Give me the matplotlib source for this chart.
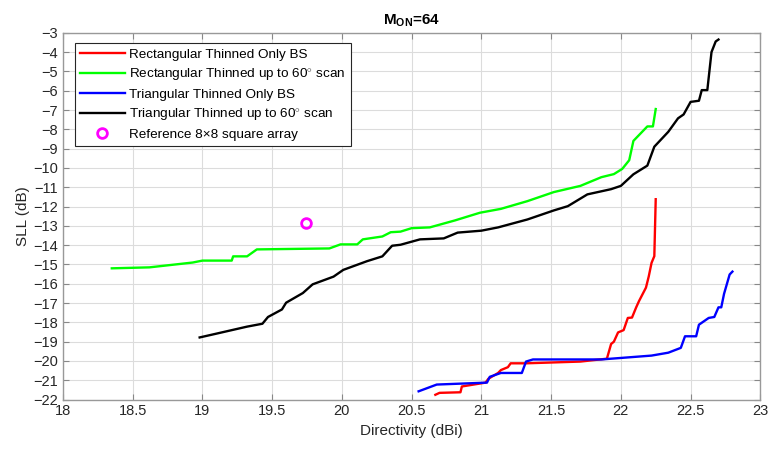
import matplotlib.pyplot as plt
import numpy as np

plt.rcParams["font.family"] = ["Liberation Sans", "DejaVu Sans"]
plt.rcParams["mathtext.fontset"] = "custom"
plt.rcParams["mathtext.rm"] = "Liberation Sans"
plt.rcParams["mathtext.bf"] = "Liberation Sans:bold"

# directivity (dBi) vs peak sidelobe level (dB), M_ON = 64 elements switched on
rect_bs_d = [20.67, 20.70, 20.85, 20.86, 21.03, 21.05, 21.12, 21.14, 21.19, 21.21, 21.32,
             21.71, 21.90, 21.93, 21.95, 21.98, 22.02, 22.05, 22.08, 22.11, 22.13, 22.16,
             22.18, 22.20, 22.22, 22.24, 22.25]
rect_bs_sll = [-21.75, -21.65, -21.62, -21.32, -21.12, -20.92, -20.62, -20.47, -20.32, -20.12, -20.12,
               -20.03, -19.88, -19.12, -19.0, -18.52, -18.4, -17.77, -17.75, -17.22, -16.9, -16.48,
               -16.2, -15.62, -14.92, -14.57, -11.62]

rect_scan_d = [18.35, 18.62, 18.93, 19.00, 19.21, 19.22, 19.32, 19.39, 19.91, 19.99, 20.11,
               20.15, 20.29, 20.35, 20.42, 20.50, 20.63, 20.81, 20.99, 21.14, 21.33, 21.52,
               21.71, 21.86, 21.95, 22.01, 22.06, 22.09, 22.19, 22.23, 22.25]
rect_scan_sll = [-15.20, -15.15, -14.90, -14.80, -14.80, -14.58, -14.58, -14.22, -14.17, -13.96, -13.96,
                 -13.70, -13.55, -13.33, -13.30, -13.12, -13.08, -12.72, -12.32, -12.12, -11.72, -11.25,
                 -10.93, -10.48, -10.32, -10.05, -9.60, -8.60, -7.85, -7.85, -6.95]

tri_bs_d = [20.55, 20.68, 21.04, 21.06, 21.14, 21.29, 21.32, 21.37, 21.86, 22.22, 22.34,
            22.43, 22.46, 22.54, 22.56, 22.63, 22.67, 22.70, 22.72, 22.74, 22.78, 22.80]
tri_bs_sll = [-21.57, -21.22, -21.12, -20.82, -20.62, -20.62, -20.03, -19.92, -19.92, -19.72, -19.57,
              -19.32, -18.72, -18.72, -18.12, -17.77, -17.72, -17.22, -17.22, -16.52, -15.52, -15.37]

tri_scan_d = [18.98, 19.09, 19.32, 19.43, 19.47, 19.57, 19.60, 19.72, 19.79, 19.94, 20.01,
              20.18, 20.29, 20.36, 20.42, 20.56, 20.73, 20.83, 21.00, 21.12, 21.33, 21.52,
              21.62, 21.76, 21.93, 22.00, 22.09, 22.19, 22.24, 22.34, 22.41, 22.45, 22.50,
              22.56, 22.58, 22.62, 22.65, 22.68, 22.70]
tri_scan_sll = [-18.78, -18.60, -18.22, -18.07, -17.72, -17.33, -16.98, -16.48, -16.03, -15.63, -15.28,
                -14.83, -14.58, -14.03, -13.98, -13.70, -13.65, -13.35, -13.25, -13.08, -12.67, -12.20,
                -11.98, -11.37, -11.10, -10.93, -10.33, -9.88, -8.90, -8.13, -7.43, -7.23, -6.58,
                -6.52, -5.97, -5.97, -4.00, -3.45, -3.35]

ref_d = [19.74]
ref_sll = [-12.83]

fig = plt.figure(figsize=(7.68, 4.49), dpi=100)
ax = fig.add_axes([0.082, 0.110, 0.908, 0.817])

lw = 1.7
ax.plot(rect_bs_d, rect_bs_sll, color="#ff0000", lw=lw, label="Rectangular Thinned Only BS")
ax.plot(rect_scan_d, rect_scan_sll, color="#00ff00", lw=lw,
        label=r"Rectangular Thinned up to 60$^{\circ}$ scan")
ax.plot(tri_bs_d, tri_bs_sll, color="#0000ff", lw=lw, label="Triangular Thinned Only BS")
ax.plot(tri_scan_d, tri_scan_sll, color="#000000", lw=lw,
        label=r"Triangular Thinned up to 60$^{\circ}$ scan")
ax.plot(ref_d, ref_sll, "o", color="#ff00ff", mfc="none", ms=7, mew=2,
        label="Reference 8×8 square array")

ax.set_xlim(18, 23)
ax.set_ylim(-22, -3)
ax.set_xticks(np.arange(18, 23.01, 0.5))
ax.set_xticklabels([f"{v:g}" for v in np.arange(18, 23.01, 0.5)])
ax.set_yticks(np.arange(-22, -2.99, 1))
ax.set_yticklabels([f"\u2212{abs(int(v))}" for v in np.arange(-22, -2.99, 1)])

ax.grid(True, color="#dcdcdc", lw=0.8)
ax.set_axisbelow(True)
ax.tick_params(direction="in", top=True, right=True, length=4, labelsize=10.5,
               color="#888888", labelcolor="#262626")
for s in ax.spines.values():
    s.set_color("#999999")
    s.set_linewidth(1.0)

ax.set_xlabel("Directivity (dBi)", fontsize=11, color="#262626")
ax.set_ylabel("SLL (dB)", fontsize=11, color="#262626", labelpad=2)
ax.set_title(r"$\mathbf{M_{ON}}$=64", fontsize=11, fontweight="bold", pad=6)

leg = ax.legend(loc="upper left", bbox_to_anchor=(0.017, 0.973), borderaxespad=0,
                fontsize=9.7, handlelength=3.3, handletextpad=0.3, labelspacing=0.4,
                fancybox=False, framealpha=1, edgecolor="#262626", borderpad=0.4)
leg.get_frame().set_linewidth(0.8)

fig.savefig("out.png", dpi=100)
